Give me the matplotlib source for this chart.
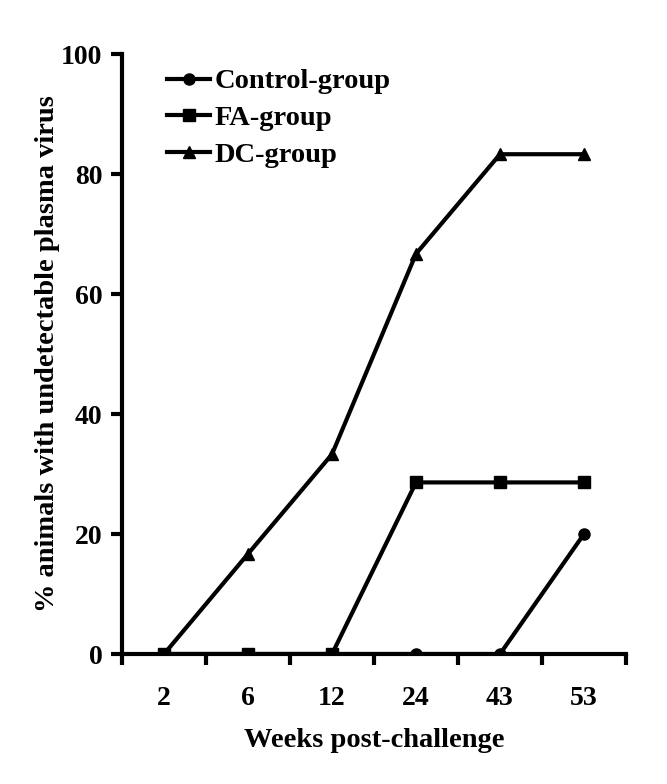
import matplotlib
matplotlib.use("Agg")
import matplotlib.pyplot as plt
import numpy as np

weeks = ["2", "6", "12", "24", "43", "53"]
control = [0, 0, 0, 0, 0, 20]
fa = [0, 0, 0, 28.6, 28.6, 28.6]
dc = [0, 16.7, 33.3, 66.7, 83.3, 83.3]

plt.rcParams['font.family'] = ['Liberation Serif', 'DejaVu Serif']
plt.rcParams['font.weight'] = 'bold'

fig = plt.figure(figsize=(6.67, 7.84), dpi=100)
ax = fig.add_axes([0.183, 0.1658, 0.7555, 0.7653])

x = np.arange(len(weeks))
ax.plot(x, control, color='black', lw=3, marker='o', ms=8, label='Control-group')
ax.plot(x, fa, color='black', lw=3, marker='s', ms=8, label='FA-group')
ax.plot(x, dc, color='black', lw=3, marker='^', ms=9, label='DC-group')

ax.set_xlim(-0.5, len(weeks) - 0.5)
ax.set_ylim(0, 100)
ax.set_yticks([0, 20, 40, 60, 80, 100])
ax.set_xticks(x)
ax.set_xticklabels(weeks)
ax.set_xticks(np.arange(-0.5, len(weeks), 1.0), minor=True)
ax.tick_params(axis='x', which='major', length=0, pad=23, labelsize=20)
ax.tick_params(axis='x', which='minor', length=8, width=3, direction='out')
ax.tick_params(axis='y', length=8, width=3, direction='out', labelsize=20, pad=6)

for s in ['top', 'right']:
    ax.spines[s].set_visible(False)
for s in ['left', 'bottom']:
    ax.spines[s].set_linewidth(3)

ax.set_xlabel('Weeks post-challenge', fontsize=20.5, fontweight='bold', labelpad=12)
ax.set_ylabel('% animals with undetectable plasma virus', fontsize=20.5, fontweight='bold', labelpad=1)

leg = ax.legend(loc='upper left', bbox_to_anchor=(0.05, 1.009), frameon=False, fontsize=20.5,
                handlelength=1.5, handletextpad=0.15, labelspacing=0.38, borderaxespad=0.3)

fig.savefig('out.png', dpi=100)
